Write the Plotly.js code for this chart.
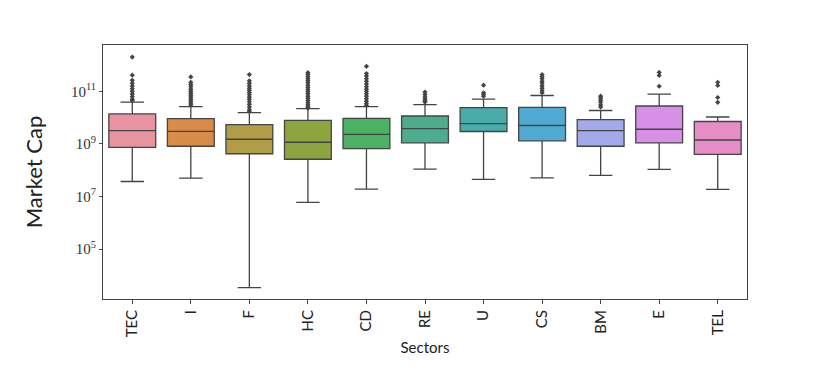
<!DOCTYPE html>
<html>
<head>
<meta charset="utf-8">
<script src="https://cdn.plot.ly/plotly-3.0.1.min.js"></script>
<style>
  body { margin: 0; background: #fff; }
  #chart { width: 830px; height: 374px; }
</style>
</head>
<body>
<div id="chart"></div>
<script>
let sectors = ["TEC", "I", "F", "HC", "CD", "RE", "U", "CS", "BM", "E", "TEL"];

let lowerFence = [3.7e7, 5.0e7, 3.4e3, 6.0e6, 1.9e7, 1.1e8, 4.5e7, 5.1e7, 6.3e7, 1.07e8, 1.86e7];
let q1Vals     = [7.4e8, 8.1e8, 4.2e8, 2.6e8, 6.6e8, 1.1e9, 2.95e9, 1.3e9, 8.1e8, 1.1e9, 4.0e8];
let medianVals = [3.2e9, 3.0e9, 1.5e9, 1.15e9, 2.3e9, 3.8e9, 5.9e9, 5.0e9, 3.2e9, 3.6e9, 1.4e9];
let q3Vals     = [1.38e10, 9.1e9, 5.4e9, 7.8e9, 9.3e9, 1.15e10, 2.4e10, 2.45e10, 8.3e9, 2.75e10, 7.1e9];
let upperFence = [3.9e10, 2.6e10, 1.55e10, 2.2e10, 2.6e10, 3.1e10, 5.0e10, 6.9e10, 1.86e10, 7.8e10, 1.05e10];

let outliers = [
    [2.0e12, 4.1e11, 2.6e11, 2.0e11, 1.6e11, 1.26e11, 1.0e11, 7.9e10, 6.3e10, 5.0e10, 4.5e10],
    [3.5e11, 2.2e11, 1.8e11, 1.5e11, 1.2e11, 1.0e11, 8.5e10, 7.0e10, 6.0e10, 5.0e10, 4.2e10, 3.5e10, 3.0e10],
    [4.3e11, 2.5e11, 2.0e11, 1.6e11, 1.3e11, 1.1e11, 9.0e10, 7.5e10, 6.0e10, 5.0e10, 4.0e10, 3.2e10, 2.5e10, 2.0e10, 1.7e10],
    [5.1e11, 4.3e11, 3.6e11, 3.0e11, 2.5e11, 2.1e11, 1.7e11, 1.4e11, 1.15e11, 9.5e10, 8.0e10, 6.5e10, 5.4e10, 4.5e10, 3.7e10, 3.1e10, 2.6e10, 2.3e10],
    [8.9e11, 4.7e11, 3.8e11, 3.0e11, 2.4e11, 1.9e11, 1.5e11, 1.2e11, 1.0e11, 8.0e10, 6.5e10, 5.2e10, 4.2e10, 3.4e10, 2.9e10],
    [9.3e10, 7.5e10, 6.0e10, 5.0e10, 4.3e10, 3.9e10],
    [1.7e11, 8.7e10, 7.5e10, 6.5e10],
    [4.3e11, 3.6e11, 3.0e11, 2.4e11, 2.0e11, 1.6e11, 1.3e11, 1.05e11, 8.7e10],
    [6.5e10, 5.5e10, 4.6e10, 3.8e10, 3.0e10, 2.5e10],
    [5.2e11, 4.0e11, 1.55e11],
    [2.2e11, 1.66e11, 5.8e10, 3.8e10]
];

let boxColors = ["#e8939f", "#d98c4a", "#b19c48", "#8ea43f", "#4bb264", "#4cad8e",
                 "#4aacaa", "#50aad2", "#a3a9ea", "#d691e6", "#e68cc6"];

let data = [];

for (let i = 0; i < sectors.length; i++) {
    data.push({
        type: "box",
        x: [sectors[i]],
        lowerfence: [lowerFence[i]],
        q1: [q1Vals[i]],
        median: [medianVals[i]],
        q3: [q3Vals[i]],
        upperfence: [upperFence[i]],
        fillcolor: boxColors[i],
        line: { color: "#444444", width: 1.3 },
        whiskerwidth: 0.5,
        width: 0.8,
        boxpoints: false,
        hoverinfo: "skip",
        showlegend: false
    });
}

// outliers as diamond markers
let outX = [];
let outY = [];
for (let i = 0; i < sectors.length; i++) {
    for (let v of outliers[i]) {
        outX.push(sectors[i]);
        outY.push(v);
    }
}
data.push({
    type: "scatter",
    mode: "markers",
    x: outX,
    y: outY,
    marker: { symbol: "diamond", size: 4, color: "#444444" },
    hoverinfo: "skip",
    showlegend: false
});

let layout = {
    width: 830,
    height: 374,
    margin: { l: 103, r: 83, t: 45, b: 75 },
    paper_bgcolor: "white",
    plot_bgcolor: "white",
    boxmode: "overlay",
    font: { family: "Lato, 'DejaVu Sans', sans-serif", color: "#222" },
    xaxis: {
        type: "category",
        categoryorder: "array",
        categoryarray: sectors,
        range: [-0.5, 10.5],
        tickangle: -90,
        tickfont: { size: 15, family: "Lato, 'DejaVu Sans', sans-serif", color: "#222" },
        ticks: "outside",
        ticklen: 4,
        tickcolor: "#444",
        showline: true,
        linecolor: "#444",
        linewidth: 1,
        mirror: true,
        showgrid: false,
        zeroline: false,
        title: { text: "Sectors", font: { size: 15, color: "#222" }, standoff: 6 }
    },
    yaxis: {
        type: "log",
        range: [3.10, 12.76],
        tickvals: [1e5, 1e7, 1e9, 1e11],
        ticktext: ["10<sup>5</sup>", "10<sup>7</sup>", "10<sup>9</sup>", "10<sup>11</sup>"],
        tickfont: { size: 15, family: "'Liberation Serif', 'DejaVu Serif', serif", color: "#333" },
        ticks: "outside",
        ticklen: 3,
        tickcolor: "#444",
        showline: true,
        linecolor: "#444",
        linewidth: 1,
        mirror: true,
        showgrid: false,
        zeroline: false,
        title: { text: "Market Cap", font: { size: 22, color: "#222" }, standoff: 22 }
    }
};

Plotly.newPlot("chart", data, layout, { displayModeBar: false });
</script>
</body>
</html>
